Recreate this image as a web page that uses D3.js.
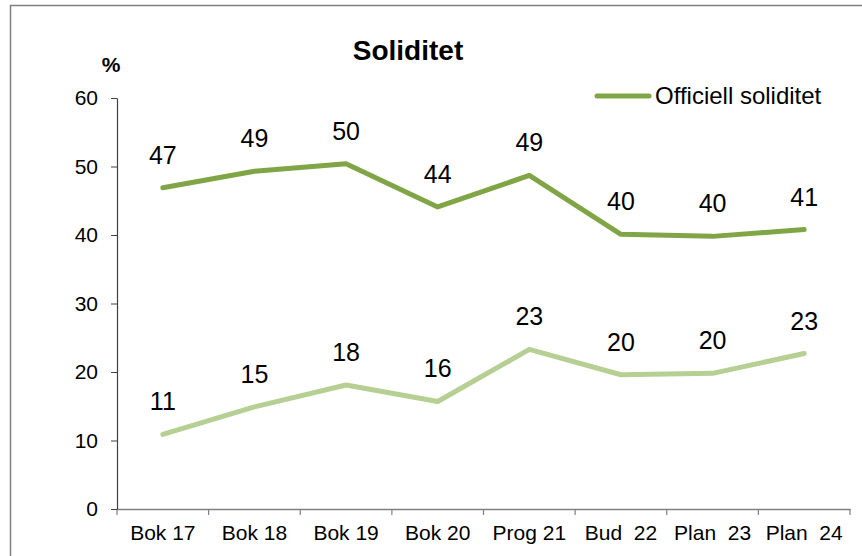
<!DOCTYPE html>
<html>
<head>
<meta charset="utf-8">
<script src="https://cdn.jsdelivr.net/npm/d3@7"></script>
<style>
  body { margin: 0; background: #fff; }
  svg { display: block; font-family: Arial, "Liberation Sans", sans-serif; }
</style>
</head>
<body>
<div id="chart"></div>
<script>
const categories = ['Bok 17', 'Bok 18', 'Bok 19', 'Bok 20', 'Prog 21', 'Bud\u00a0 22', 'Plan\u00a0 23', 'Plan\u00a0 24'];
const officiell = [46.9, 49.3, 50.4, 44.1, 48.7, 40.1, 39.8, 40.8];
const andra = [10.9, 14.9, 18.1, 15.7, 23.3, 19.6, 19.8, 22.7];
const yTicks = [0, 10, 20, 30, 40, 50, 60];

const width = 862, height = 556;
const margin = {left: 117, right: 12, top: 98, bottom: 47};

const svg = d3.select('#chart').append('svg')
  .attr('width', width)
  .attr('height', height);

// chart frame (only top and left visible)
svg.append('path')
  .attr('d', `M10.5,${height} V5.5 H${width}`)
  .attr('fill', 'none')
  .attr('stroke', '#7f7f7f')
  .attr('stroke-width', 1.5);

const x = d3.scaleBand()
  .domain(categories)
  .range([margin.left, width - margin.right]);

const y = d3.scaleLinear()
  .domain([0, 60])
  .range([height - margin.bottom, margin.top]);

// x axis
const xAxis = svg.append('g')
  .attr('transform', `translate(0,${y(0)})`)
  .call(d3.axisBottom(x).tickSizeOuter(0).tickSize(0).tickPadding(16));
xAxis.select('.domain').attr('stroke', '#808080').attr('stroke-width', 1.5);
xAxis.selectAll('text').style('font-size', '21px').attr('fill', '#000');

// boundary ticks between categories
svg.append('g')
  .selectAll('line')
  .data(categories.concat(['end']))
  .join('line')
    .attr('x1', (d, i) => i < categories.length ? x(d) : x.range()[1])
    .attr('x2', (d, i) => i < categories.length ? x(d) : x.range()[1])
    .attr('y1', y(0))
    .attr('y2', y(0) + 6)
    .attr('stroke', '#808080')
    .attr('stroke-width', 1.2);

// y axis
const yAxis = svg.append('g')
  .attr('transform', `translate(${margin.left},0)`)
  .call(d3.axisLeft(y).tickValues(yTicks).tickSize(6).tickSizeOuter(0).tickPadding(13));
yAxis.select('.domain').attr('stroke', '#404040').attr('stroke-width', 1.2);
yAxis.selectAll('.tick line').attr('stroke', '#404040');
yAxis.selectAll('text').style('font-size', '21px').attr('fill', '#000');

svg.append('text')
  .attr('x', 111)
  .attr('y', 72)
  .attr('text-anchor', 'middle')
  .style('font-size', '21px')
  .style('font-weight', 'bold')
  .text('%');

svg.append('text')
  .attr('x', 408)
  .attr('y', 60)
  .attr('text-anchor', 'middle')
  .style('font-size', '28px')
  .style('font-weight', 'bold')
  .text('Soliditet');

const series = [
  {values: officiell, color: '#80a546'},
  {values: andra, color: '#b6cf93'}
];

const line = d3.line()
  .x((d, i) => x(categories[i]) + x.bandwidth() / 2)
  .y(d => y(d));

series.forEach(s => {
  svg.append('path')
    .datum(s.values)
    .attr('d', line)
    .attr('fill', 'none')
    .attr('stroke', s.color)
    .attr('stroke-width', 5)
    .attr('stroke-linecap', 'round')
    .attr('stroke-linejoin', 'round');

  svg.append('g')
    .selectAll('text')
    .data(s.values)
    .join('text')
      .attr('x', (d, i) => x(categories[i]) + x.bandwidth() / 2)
      .attr('y', d => y(d) - 24)
      .attr('text-anchor', 'middle')
      .style('font-size', '25px')
      .attr('fill', '#000')
      .text(d => Math.round(d));
});

// legend
svg.append('line')
  .attr('x1', 597).attr('x2', 649)
  .attr('y1', 96).attr('y2', 96)
  .attr('stroke', '#80a546')
  .attr('stroke-width', 5)
  .attr('stroke-linecap', 'round');

svg.append('text')
  .attr('x', 655)
  .attr('y', 104)
  .style('font-size', '24px')
  .attr('fill', '#000')
  .text('Officiell soliditet');
</script>
</body>
</html>
